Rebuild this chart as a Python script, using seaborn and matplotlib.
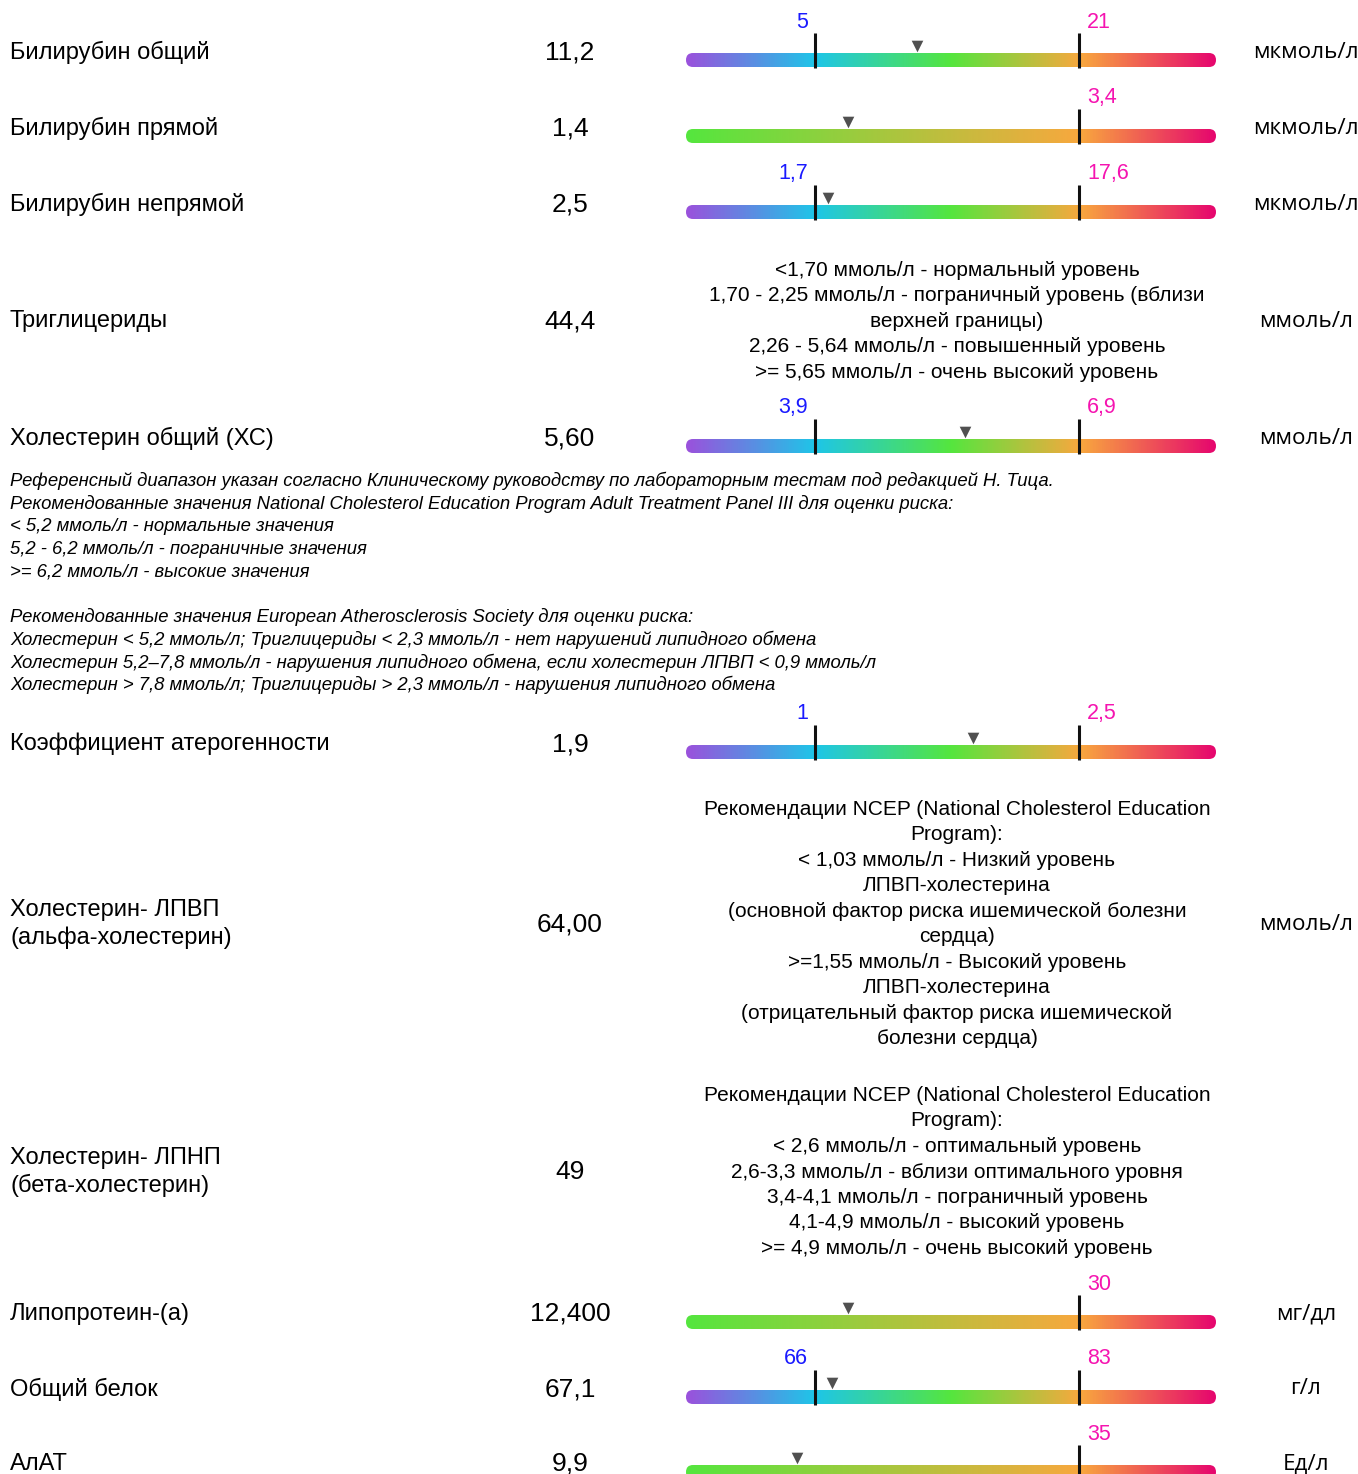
import numpy as np
import matplotlib
matplotlib.use("Agg")
import matplotlib.pyplot as plt
from matplotlib.colors import LinearSegmentedColormap
from matplotlib.patches import FancyBboxPatch
import seaborn as sns

# ---- data ----
names = ["Билирубин общий", "Билирубин прямой", "Билирубин непрямой", "Триглицериды",
         "Холестерин общий (ХС)", "Коэффициент атерогенности",
         "Холестерин- ЛПВП\n(альфа-холестерин)", "Холестерин- ЛПНП\n(бета-холестерин)",
         "Липопротеин-(а)", "Общий белок", "АлАТ"]
value_labels = ["11,2", "1,4", "2,5", "44,4", "5,60", "1,9", "64,00", "49", "12,400", "67,1", "9,9"]
values = [11.2, 1.4, 2.5, 44.4, 5.60, 1.9, 64.00, 49, 12.4, 67.1, 9.9]
ref_low = [5, None, 1.7, None, 3.9, 1, None, None, None, 66, None]
ref_high = [21, 3.4, 17.6, None, 6.9, 2.5, None, None, 30, 83, 35]
units = ["мкмоль/л", "мкмоль/л", "мкмоль/л", "ммоль/л", "ммоль/л", "",
         "ммоль/л", "", "мг/дл", "г/л", "Ед/л"]

tg_note = ["<1,70 ммоль/л - нормальный уровень",
           "1,70 - 2,25 ммоль/л - пограничный уровень (вблизи",
           "верхней границы)",
           "2,26 - 5,64 ммоль/л - повышенный уровень",
           ">= 5,65 ммоль/л - очень высокий уровень"]
hdl_note = ["Рекомендации NCEP (National Cholesterol Education",
            "Program):",
            "< 1,03 ммоль/л - Низкий уровень",
            "ЛПВП-холестерина",
            "(основной фактор риска ишемической болезни",
            "сердца)",
            ">=1,55 ммоль/л - Высокий уровень",
            "ЛПВП-холестерина",
            "(отрицательный фактор риска ишемической",
            "болезни сердца)"]
ldl_note = ["Рекомендации NCEP (National Cholesterol Education",
            "Program):",
            "< 2,6 ммоль/л - оптимальный уровень",
            "2,6-3,3 ммоль/л - вблизи оптимального уровня",
            "3,4-4,1 ммоль/л - пограничный уровень",
            "4,1-4,9 ммоль/л - высокий уровень",
            ">= 4,9 ммоль/л - очень высокий уровень"]
notes = {3: tg_note, 6: hdl_note, 7: ldl_note}

footnote = ["Референсный диапазон указан согласно Клиническому руководству по лабораторным тестам под редакцией Н. Тица.",
            "Рекомендованные значения National Cholesterol Education Program Adult Treatment Panel III для оценки риска:",
            "< 5,2 ммоль/л - нормальные значения",
            "5,2 - 6,2 ммоль/л - пограничные значения",
            ">= 6,2 ммоль/л - высокие значения",
            "",
            "Рекомендованные значения European Atherosclerosis Society для оценки риска:",
            "Холестерин < 5,2 ммоль/л; Триглицериды < 2,3 ммоль/л - нет нарушений липидного обмена",
            "Холестерин 5,2–7,8 ммоль/л - нарушения липидного обмена, если холестерин ЛПВП < 0,9 ммоль/л",
            "Холестерин > 7,8 ммоль/л; Триглицериды > 2,3 ммоль/л - нарушения липидного обмена"]

# ---- layout (pixels) ----
W, H = 1358, 1474
row_y = [50, 126, 202, 319, 436, 742, 922, 1170, 1312, 1387, 1462]
bar_left, bar_right = 686, 1216
tick_lo_px, tick_hi_px = 815, 1079
dy = 2  # text baseline nudge

sns.set_theme(style="white")
plt.rcParams["font.family"] = ["Liberation Sans", "DejaVu Sans"]
plt.rcParams["text.color"] = "black"

two_sided = LinearSegmentedColormap.from_list(
    "two", [(0.0, "#9a52dc"), (0.243, "#1ec6e8"), (0.5, "#55e63e"),
            (0.745, "#f8a83e"), (1.0, "#e6076e")])
one_sided = LinearSegmentedColormap.from_list(
    "one", [(0.0, "#55e63e"), (0.745, "#f8a83e"), (1.0, "#e6076e")])

fig = plt.figure(figsize=(W / 100, H / 100), dpi=100)
ax = fig.add_axes([0, 0, 1, 1])
ax.set_xlim(0, W)
ax.set_ylim(H, 0)
ax.axis("off")

for i, name in enumerate(names):
    y = row_y[i] + dy
    ax.text(10, y, name, ha="left", va="center", fontsize=17, linespacing=1.32)
    ax.text(570, y, value_labels[i], ha="center", va="center", fontsize=19)
    if units[i]:
        ax.text(1306, y, units[i], ha="center", va="center", fontsize=16.2,
                family=["Open Sans", "DejaVu Sans"])
    if i in notes:
        lines = notes[i]
        n = len(lines)
        for j, line in enumerate(lines):
            ax.text(957, y + (j - (n - 1) / 2) * 25.5, line, ha="center", va="center",
                    fontsize=15)

for j, line in enumerate(footnote):
    ax.text(10, 479 + dy + j * 22.67, line, ha="left", va="center", fontsize=13.3,
            style="italic")

gradient = np.linspace(0, 1, 600)[None, :]
for i in range(len(names)):
    hi = ref_high[i]
    if hi is None:
        continue
    lo = ref_low[i]
    c = row_y[i] + 10
    bax = fig.add_axes([bar_left / W, 1 - (c + 12) / H, (bar_right - bar_left) / W, 64 / H])
    bax.axis("off")
    if lo is not None:
        span = hi - lo
        x0 = lo - span * (tick_lo_px - bar_left) / (tick_hi_px - tick_lo_px)
        x1 = hi + span * (bar_right - tick_hi_px) / (tick_hi_px - tick_lo_px)
        cmap = two_sided
    else:
        x0 = 0
        x1 = hi * (bar_right - bar_left) / (tick_hi_px - bar_left)
        cmap = one_sided

    im = bax.imshow(gradient, cmap=cmap, extent=[x0, x1, 7, -7], aspect="auto", zorder=1)
    clip = FancyBboxPatch((bar_left, c - 7), bar_right - bar_left, 14,
                          boxstyle="round,pad=0,rounding_size=7",
                          transform=ax.transData, facecolor="none", edgecolor="none")
    ax.add_patch(clip)
    im.set_clip_path(clip)

    limits = [v for v in (lo, hi) if v is not None]
    bax.vlines(limits, -27, 8, color="#111111", lw=2.2, zorder=3)
    if lo is not None:
        bax.annotate(f"{lo:g}".replace(".", ","), xy=(lo, -38), xytext=(-7, 0),
                     textcoords="offset pixels", ha="right", va="center",
                     color="#1a1aff", fontsize=15.5)
    bax.annotate(f"{hi:g}".replace(".", ","), xy=(hi, -38), xytext=(8, 0),
                 textcoords="offset pixels", ha="left", va="center",
                 color="#f514b0", fontsize=15.5)

    sns.scatterplot(x=[values[i]], y=[-14], marker="v", s=70, color="#505050",
                    linewidth=0, ax=bax, legend=False, zorder=4)
    bax.set_xlim(x0, x1)
    bax.set_ylim(12, -52)
    bax.axis("off")

fig.savefig("out.png", dpi=100, facecolor="white")
